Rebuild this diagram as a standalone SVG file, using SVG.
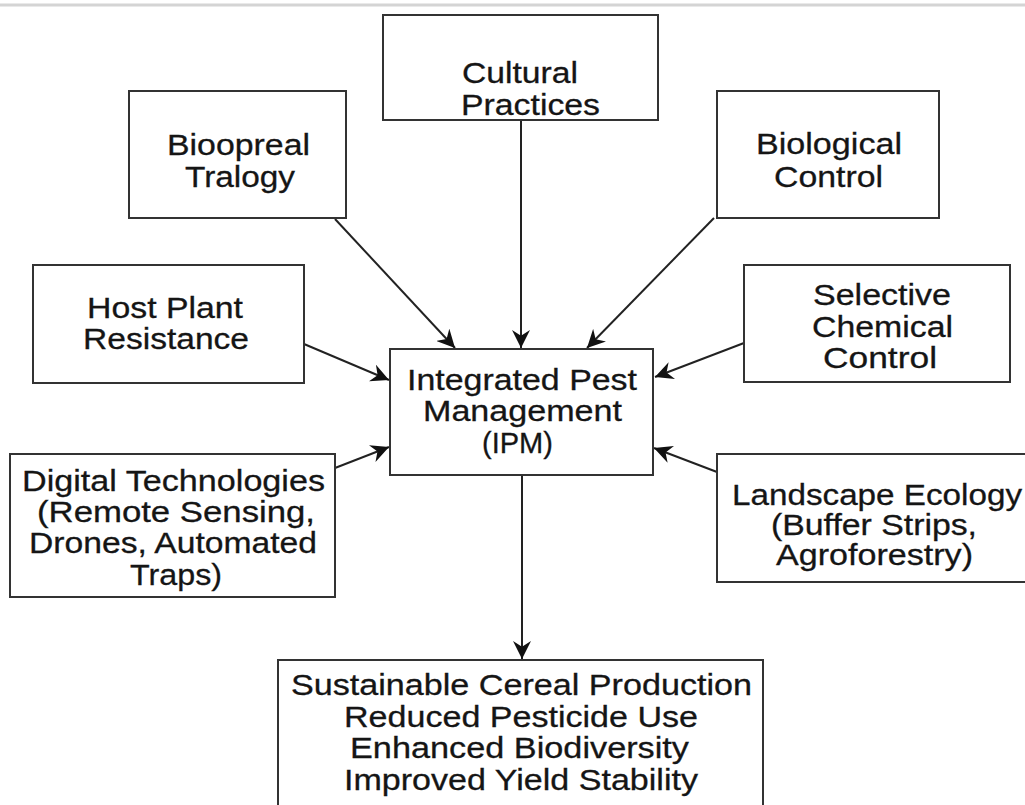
<svg xmlns="http://www.w3.org/2000/svg" width="1025" height="805" viewBox="0 0 1025 805">
<defs>
<style>
.box{fill:#ffffff;stroke:#333333;stroke-width:2}
.t{font-family:"Liberation Sans",Arial,sans-serif;font-size:30px;fill:#151515;stroke:#151515;stroke-width:0.3}
.c{stroke:#222222;stroke-width:2;fill:none;marker-end:url(#ah)}
</style>
<marker id="ah" viewBox="0 0 16 16" refX="16" refY="8" markerWidth="18" markerHeight="18" markerUnits="userSpaceOnUse" orient="auto">
<path d="M0,0 L16,8 L0,16 L5,8 Z" fill="#111111"/>
</marker>
</defs>
<rect x="0" y="0" width="1025" height="805" fill="#ffffff"/>
<rect x="0" y="3.5" width="1025" height="3" fill="#d4d4d4"/>

<g id="connectors">
<path class="c" d="M521,120 L521,348"/>
<path class="c" d="M335,219 L455,348"/>
<path class="c" d="M714,218 L587,348"/>
<path class="c" d="M304,344 L389,380"/>
<path class="c" d="M744,343 L655,377"/>
<path class="c" d="M335,468 L389,447"/>
<path class="c" d="M717,472 L654,448"/>
<path class="c" d="M522,475 L522,659"/>
</g>

<g id="cultural">
<rect class="box" x="383" y="15" width="275" height="105"/>
<text class="t" x="462" y="83" textLength="116" lengthAdjust="spacingAndGlyphs">Cultural</text>
<text class="t" x="461" y="115" textLength="139" lengthAdjust="spacingAndGlyphs">Practices</text>
</g>

<g id="bioopreal">
<rect class="box" x="129" y="91" width="217" height="127"/>
<text class="t" x="167" y="155" textLength="143" lengthAdjust="spacingAndGlyphs">Bioopreal</text>
<text class="t" x="185" y="187" textLength="110" lengthAdjust="spacingAndGlyphs">Tralogy</text>
</g>

<g id="biological">
<rect class="box" x="717" y="91" width="222" height="127"/>
<text class="t" x="756" y="154" textLength="146" lengthAdjust="spacingAndGlyphs">Biological</text>
<text class="t" x="774" y="187" textLength="109" lengthAdjust="spacingAndGlyphs">Control</text>
</g>

<g id="host">
<rect class="box" x="33" y="265" width="271" height="118"/>
<text class="t" x="87" y="318" textLength="156" lengthAdjust="spacingAndGlyphs">Host Plant</text>
<text class="t" x="83" y="349" textLength="166" lengthAdjust="spacingAndGlyphs">Resistance</text>
</g>

<g id="selective">
<rect class="box" x="744" y="265" width="266" height="117"/>
<text class="t" x="813" y="305" textLength="138" lengthAdjust="spacingAndGlyphs">Selective</text>
<text class="t" x="812" y="337" textLength="141" lengthAdjust="spacingAndGlyphs">Chemical</text>
<text class="t" x="823" y="368" textLength="114" lengthAdjust="spacingAndGlyphs">Control</text>
</g>

<g id="ipm">
<rect class="box" x="390" y="349" width="263" height="126"/>
<text class="t" x="407" y="390" textLength="230" lengthAdjust="spacingAndGlyphs">Integrated Pest</text>
<text class="t" x="423" y="421" textLength="199" lengthAdjust="spacingAndGlyphs">Management</text>
<text class="t" x="482" y="453" textLength="71" lengthAdjust="spacingAndGlyphs">(IPM)</text>
</g>

<g id="digital">
<rect class="box" x="10" y="454" width="325" height="143"/>
<text class="t" x="22" y="491" textLength="303" lengthAdjust="spacingAndGlyphs">Digital Technologies</text>
<text class="t" x="37" y="522" textLength="278" lengthAdjust="spacingAndGlyphs">(Remote Sensing,</text>
<text class="t" x="29" y="553" textLength="288" lengthAdjust="spacingAndGlyphs">Drones, Automated</text>
<text class="t" x="130" y="585" textLength="92" lengthAdjust="spacingAndGlyphs">Traps)</text>
</g>

<g id="landscape">
<rect class="box" x="717" y="454" width="320" height="128"/>
<text class="t" x="732" y="505" textLength="290" lengthAdjust="spacingAndGlyphs">Landscape Ecology</text>
<text class="t" x="771" y="535" textLength="206" lengthAdjust="spacingAndGlyphs">(Buffer Strips,</text>
<text class="t" x="776" y="565" textLength="197" lengthAdjust="spacingAndGlyphs">Agroforestry)</text>
</g>

<g id="outcomes">
<rect class="box" x="278" y="660" width="485" height="160"/>
<text class="t" x="291" y="695" textLength="461" lengthAdjust="spacingAndGlyphs">Sustainable Cereal Production</text>
<text class="t" x="344" y="727" textLength="354" lengthAdjust="spacingAndGlyphs">Reduced Pesticide Use</text>
<text class="t" x="350" y="758" textLength="339" lengthAdjust="spacingAndGlyphs">Enhanced Biodiversity</text>
<text class="t" x="344" y="790" textLength="354" lengthAdjust="spacingAndGlyphs">Improved Yield Stability</text>
</g>
</svg>
